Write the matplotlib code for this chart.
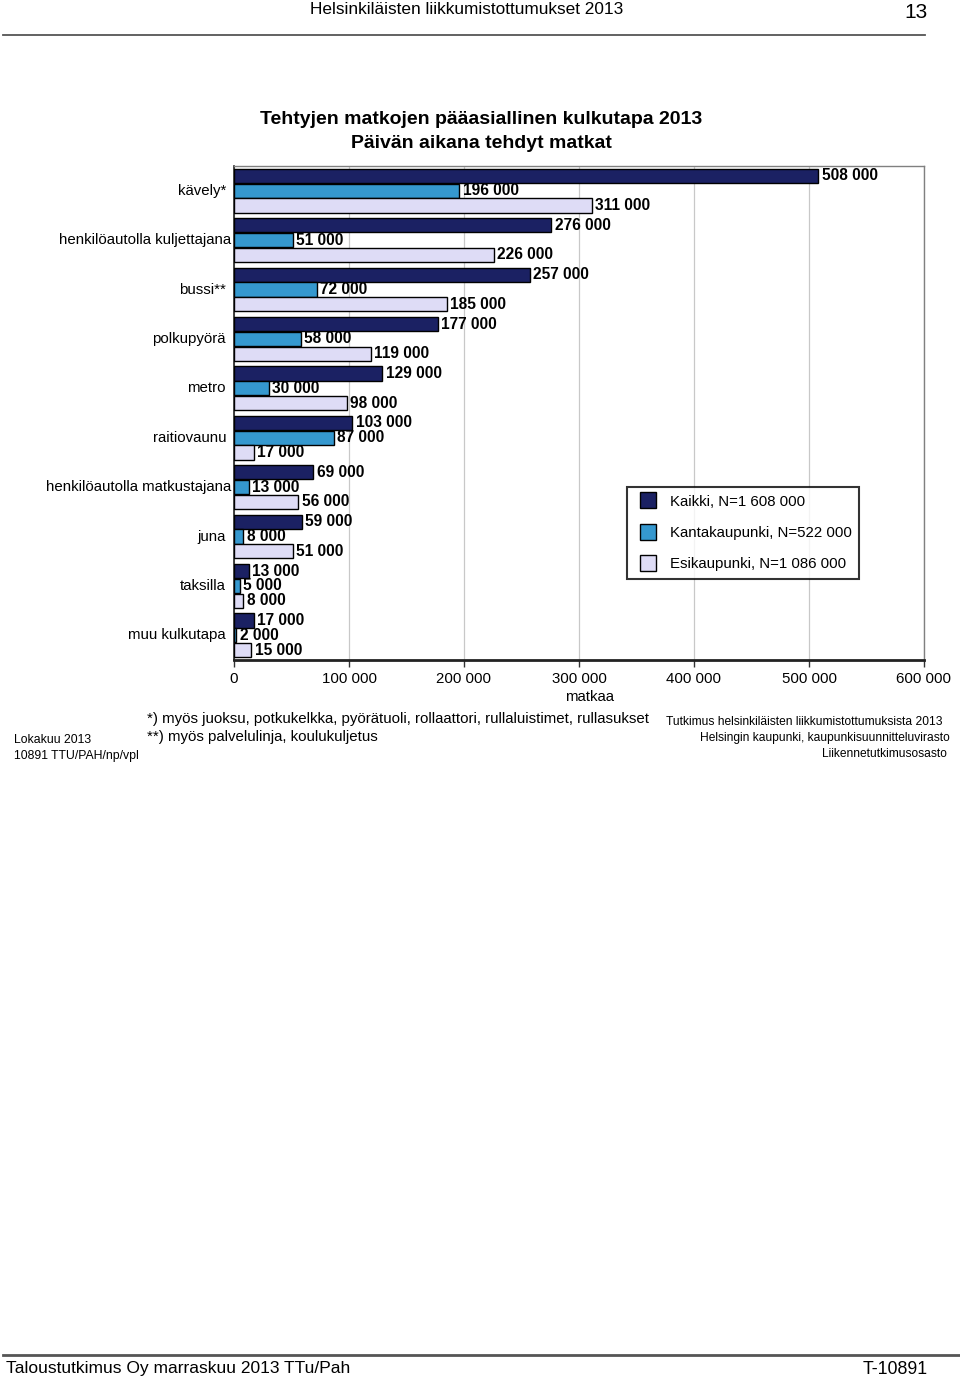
import matplotlib
matplotlib.use("Agg")
import matplotlib.pyplot as plt
from matplotlib.lines import Line2D
import matplotlib.transforms as mtransforms
import numpy as np

plt.rcParams['font.family'] = ['Liberation Sans', 'DejaVu Sans']

categories = ["kävely*", "henkilöautolla kuljettajana", "bussi**", "polkupyörä",
              "metro", "raitiovaunu", "henkilöautolla matkustajana", "juna",
              "taksilla", "muu kulkutapa"]
kaikki = [508000, 276000, 257000, 177000, 129000, 103000, 69000, 59000, 13000, 17000]
kantakaupunki = [196000, 51000, 72000, 58000, 30000, 87000, 13000, 8000, 5000, 2000]
esikaupunki = [311000, 226000, 185000, 119000, 98000, 17000, 56000, 51000, 8000, 15000]
series_names = ["Kaikki, N=1 608 000", "Kantakaupunki, N=522 000", "Esikaupunki, N=1 086 000"]
xticks = [0, 100000, 200000, 300000, 400000, 500000, 600000]

colors = ["#1b2163", "#3598cf", "#dedcf6"]

W, H = 960, 1379
fig = plt.figure(figsize=(W / 100, H / 100), dpi=100)

def fx(px):
    return px / W

def fy(py):
    return 1 - py / H

ax = fig.add_axes([fx(234), fy(660), fx(924) - fx(234), (660 - 166) / H])

y = np.arange(len(categories))
offsets = [-0.3, 0.0, 0.3]
fmt = lambda v: f"{v:,}".replace(",", " ")
for vals, off, col in zip([kaikki, kantakaupunki, esikaupunki], offsets, colors):
    bars = ax.barh(y + off, vals, height=0.29, color=col, edgecolor="black",
                   linewidth=1.0, zorder=3)
    ax.bar_label(bars, labels=[fmt(v) for v in vals], padding=2.4,
                 fontsize=11.2, fontweight="bold", zorder=4)

ax.set_xlim(0, 600000)
ax.set_ylim(9.5, -0.5)
ax.set_xticks(xticks)
ax.set_xticklabels([fmt(v) for v in xticks], fontsize=10.8)
ax.set_yticks(y)
ax.set_yticklabels([])
ax.tick_params(axis="y", length=0)
# category labels (long ones sit closer to the axis, as in the original)
for yi, cat in zip(y, categories):
    dx = -3 if len(cat) > 20 else -8
    tr = ax.get_yaxis_transform() + mtransforms.ScaledTranslation(dx / 100, 0, fig.dpi_scale_trans)
    ax.text(0, yi, cat, transform=tr, ha="right", va="center", fontsize=10.8)
ax.tick_params(axis="x", length=5, width=1, direction="out", pad=3.5, color="#333333")
ax.grid(axis="x", color="#c8c8c8", linewidth=0.9, zorder=0)
ax.set_axisbelow(True)
for s in ["top", "right"]:
    ax.spines[s].set_color("#808080")
    ax.spines[s].set_linewidth(1.0)
ax.spines["bottom"].set_color("#222222")
ax.spines["bottom"].set_linewidth(2.0)
ax.spines["left"].set_color("#222222")
ax.spines["left"].set_linewidth(1.2)
ax.set_xlabel("matkaa", fontsize=10.8, labelpad=3)
ax.xaxis.set_label_coords((590 - 234) / 690, -(697 - 660) / 494)
ax.xaxis.label.set_va("center")

handles = [Line2D([], [], linestyle="none", marker="s", markersize=12.2,
                  markerfacecolor=c, markeredgecolor="black", markeredgewidth=1.0)
           for c in colors]
leg = fig.legend(handles, series_names, loc="upper left",
                 bbox_to_anchor=(fx(627), fy(487)), borderaxespad=0,
                 fontsize=10.8, frameon=True, fancybox=False,
                 handlelength=1.8, handletextpad=0.55,
                 labelspacing=1.16, borderpad=0.5)
leg.get_frame().set_edgecolor("black")
leg.get_frame().set_linewidth(1.5)

# Titles
fig.text(fx(481), fy(119), "Tehtyjen matkojen pääasiallinen kulkutapa 2013",
         ha="center", va="center", fontsize=14, fontweight="bold")
fig.text(fx(481), fy(143), "Päivän aikana tehdyt matkat",
         ha="center", va="center", fontsize=14, fontweight="bold")

# Header
fig.text(fx(467), fy(9), "Helsinkiläisten liikkumistottumukset 2013",
         ha="center", va="center", fontsize=12.4)
fig.text(fx(928), fy(12), "13", ha="right", va="center", fontsize=15)
fig.add_artist(Line2D([fx(3), fx(925)], [fy(35), fy(35)], color="#555555", linewidth=1.3))

# Footnotes
fig.text(fx(147), fy(719), "*) myös juoksu, potkukelkka, pyörätuoli, rollaattori, rullaluistimet, rullasukset",
         ha="left", va="center", fontsize=10.8)
fig.text(fx(147), fy(737), "**) myös palvelulinja, koulukuljetus",
         ha="left", va="center", fontsize=10.8)
fig.text(fx(14), fy(740), "Lokakuu 2013", ha="left", va="center", fontsize=8.8)
fig.text(fx(14), fy(756), "10891 TTU/PAH/np/vpl", ha="left", va="center", fontsize=8.8)
fig.text(fx(943), fy(722), "Tutkimus helsinkiläisten liikkumistottumuksista 2013",
         ha="right", va="center", fontsize=8.66)
fig.text(fx(950), fy(738), "Helsingin kaupunki, kaupunkisuunnitteluvirasto",
         ha="right", va="center", fontsize=8.66)
fig.text(fx(947), fy(754), "Liikennetutkimusosasto",
         ha="right", va="center", fontsize=8.66)

# Footer
fig.add_artist(Line2D([fx(3), fx(960)], [fy(1355), fy(1355)], color="#555555", linewidth=2.0))
fig.text(fx(6), fy(1369), "Taloustutkimus Oy marraskuu 2013 TTu/Pah",
         ha="left", va="center", fontsize=12.5)
fig.text(fx(928), fy(1369), "T-10891", ha="right", va="center", fontsize=12.8)

fig.savefig("out.png", dpi=100)
